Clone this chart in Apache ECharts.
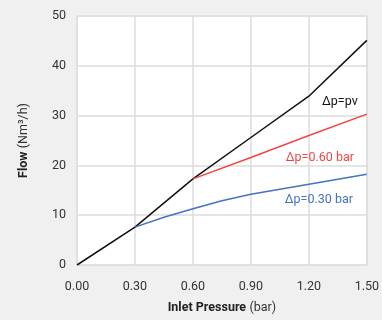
<!DOCTYPE html>
<html><head><meta charset="utf-8">
<script src="https://cdn.jsdelivr.net/npm/echarts@6/dist/echarts.min.js"></script>
<style>html,body{margin:0;padding:0;background:#f0f0f0;}#c{width:382px;height:320px;}</style>
</head><body><div id="c"></div>
<script>
const xTicks = [0, 0.3, 0.6, 0.9, 1.2, 1.5];
const pvData = [[0,0],[0.3,7.6],[0.6,17.3],[0.9,25.6],[1.2,33.9],[1.5,45.1]];
const p060Data = [[0.6,17.3],[0.9,21.6],[1.2,26.0],[1.5,30.3]];
const p030Data = [[0.3,7.6],[0.45,9.6],[0.6,11.3],[0.75,12.9],[0.9,14.2],[1.05,15.2],[1.2,16.2],[1.35,17.2],[1.5,18.2]];
const seriesNames = ['Δp=pv','Δp=0.60 bar','Δp=0.30 bar'];
const FONT = 'Roboto';
const chart = echarts.init(document.getElementById('c'));
function lbl(name, data, color, idx, dx, dy){
  return {name, type:'line', data, symbol:'none', smooth:false,
    lineStyle:{color, width:1.5}, itemStyle:{color},
    markPoint:{symbol:'circle', symbolSize:0, silent:true,
      data:[{coord:data[idx], label:{show:true, formatter:name, color, fontSize:12.5, fontFamily:FONT, offset:[dx,dy], position:'inside'}}]}};
}
chart.setOption({
  backgroundColor:'#f0f0f0',
  animation:false,
  grid:{left:77, right:14, top:16, bottom:55, show:true, backgroundColor:'#ffffff', borderColor:'#dddddd', borderWidth:1},
  xAxis:{type:'value', min:0, max:1.5, interval:0.3,
    axisLine:{show:false}, axisTick:{show:false},
    splitLine:{lineStyle:{color:'#dddddd', width:1.5}},
    axisLabel:{color:'#333', fontSize:12.5, fontFamily:FONT, margin:15, formatter:v=>v.toFixed(2)},
    name:'{b|Inlet Pressure} {n|(bar)}', nameLocation:'middle', nameGap:36,
    nameTextStyle:{rich:{b:{fontWeight:'bold', fontSize:12.5, color:'#222', fontFamily:FONT}, n:{fontSize:12.5, color:'#333', fontFamily:FONT}}}},
  yAxis:{type:'value', min:0, max:50, interval:10,
    axisLine:{show:false}, axisTick:{show:false},
    splitLine:{lineStyle:{color:'#dddddd', width:1.5}},
    axisLabel:{color:'#333', fontSize:12.5, fontFamily:FONT, margin:11},
    name:'{b|Flow} {n|(Nm³/h)}', nameLocation:'middle', nameGap:47, nameRotate:90,
    nameTextStyle:{rich:{b:{fontWeight:'bold', fontSize:12.5, color:'#222', fontFamily:FONT}, n:{fontSize:12.5, color:'#333', fontFamily:FONT}}}},
  series:[
    lbl(seriesNames[0], pvData, '#111111', 4, 31, 6),
    lbl(seriesNames[1], p060Data, '#f04646', 2, 11, 22),
    lbl(seriesNames[2], p030Data, '#4472c4', 6, 10, 16)
  ]
});
</script></body></html>
